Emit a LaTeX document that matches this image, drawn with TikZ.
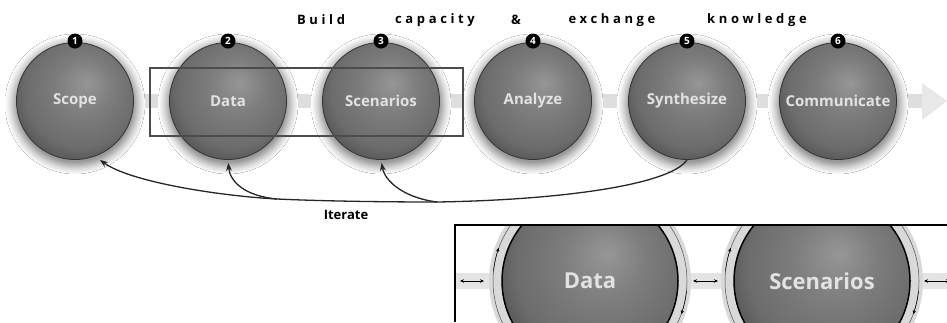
\documentclass[tikz,border=0pt]{standalone}
\usepackage{fontspec}
\setmainfont{Open Sans}
\usetikzlibrary{arrows.meta}
\definecolor{ballhi}{HTML}{969696}
\definecolor{ballmid}{HTML}{6C6C6C}
\definecolor{balledge}{HTML}{464646}
\definecolor{bandgray}{HTML}{DEDEDE}
\definecolor{balltext}{HTML}{E2E2E2}
\pgfdeclareradialshading{sphere}{\pgfpoint{5bp}{8bp}}{color(0bp)=(ballhi);color(12bp)=(ballmid!60!ballhi);color(24bp)=(ballmid);color(34bp)=(balledge);color(50bp)=(balledge)}
\pgfdeclareradialshading{glow}{\pgfpointorigin}{color(0bp)=(gray!80);color(20.5bp)=(gray!80);color(21.5bp)=(gray!60);color(23bp)=(gray!30);color(25bp)=(white);color(50bp)=(white)}
\tikzset{
    ball/.style={circle,draw=black!80,line width=0.8pt,shading=sphere,minimum size=117pt,inner sep=0pt,text=balltext,font=\bfseries\fontsize{15}{15}\selectfont},
    bigball/.style={circle,draw=black,line width=1.5pt,shading=sphere,minimum size=176pt,inner sep=0pt,text=balltext,font=\bfseries\fontsize{22}{22}\selectfont},
    badge/.style={circle,fill=black,minimum size=15pt,inner sep=0pt,text=white,font=\bfseries\fontsize{10}{10}\selectfont},
    spaced/.style={inner sep=0pt,font=\bfseries\fontsize{13}{13}\selectfont\addfontfeature{LetterSpace=28}},
    iter/.style={line width=1.3pt,draw=black!85},
    iterarrow/.style={iter,-{Stealth[length=8pt,width=6pt]}},
    ringarrow/.style={line width=0.5pt,-{Stealth[length=4pt,width=3.5pt]}},
    smallarrow/.style={line width=0.6pt,{Stealth[length=4pt,width=3.5pt]}-{Stealth[length=4pt,width=3.5pt]}},
}
\begin{document}
\begin{tikzpicture}[x=1pt,y=-1pt]
\useasboundingbox (0,0) rectangle (947,322);
\clip (0,0) rectangle (947,322);
% centres of the steps
\coordinate (c1) at (75,101);
\coordinate (c2) at (228,101);
\coordinate (c3) at (381,101);
\coordinate (c4) at (533,101);
\coordinate (c5) at (687,101);
\coordinate (c6) at (838,101);
% band with arrow head
\fill[bandgray] (75,94) rectangle (924,108);
\fill[bandgray!70] (922,83) -- (947,101) -- (922,120) -- cycle;
% glow
\fill[shading=glow] (c1) ++(0,3) circle[radius=70];
\fill[shading=glow] (c2) ++(0,3) circle[radius=70];
\fill[shading=glow] (c3) ++(0,3) circle[radius=70];
\fill[shading=glow] (c4) ++(0,3) circle[radius=70];
\fill[shading=glow] (c5) ++(0,3) circle[radius=70];
\fill[shading=glow] (c6) ++(0,3) circle[radius=70];
% steps
\node[ball] (scope) at (c1) {Scope};
\node[ball] (data) at (c2) {Data};
\node[ball] (scen) at (c3) {Scenarios};
\node[ball] (anal) at (c4) {Analyze};
\node[ball] (synth) at (c5) {Synthesize};
\node[ball] (comm) at (c6) {Communicate};
\draw[black!70,line width=1.1pt] (150,68) rectangle (463,136);
\node[badge] (n1) at (75,41) {1};
\node[badge] (n2) at (228,41) {2};
\node[badge] (n3) at (381,41) {3};
\node[badge] (n4) at (533,41) {4};
\node[badge] (n5) at (687,41) {5};
\node[badge] (n6) at (838,41) {6};
% title words
\node[spaced] (w1) at (321,20) {Build};
\node[spaced] (w2) at (435,20) {capacity};
\node[spaced] (w3) at (516,20) {\&};
\node[spaced] (w4) at (612,20) {exchange};
\node[spaced] (w5) at (757,20) {knowledge};
% iterate
\coordinate (j1) at (277,199);
\coordinate (j2) at (437,202);
\draw[iter] (synth.south) .. controls (670,185) and (560,200) .. (j2);
\draw[iter] (j2) .. controls (380,202) and (320,201) .. (j1);
\draw[iterarrow,shorten >=6pt] (j1) .. controls (220,196) and (130,182) .. (scope.-70);
\draw[iterarrow,shorten >=3pt] (j1) .. controls (245,196) and (230,182) .. (data.south);
\draw[iterarrow,shorten >=3pt] (j2) .. controls (405,198) and (385,182) .. (scen.south);
\node[font=\bfseries\fontsize{13}{13}\selectfont] (iterate) at (346,215) {Iterate};
% close-up
\coordinate (d1) at (590,281);
\coordinate (d2) at (822,281);
\begin{scope}
\clip (455,225) rectangle (947,322);
\fill[bandgray!80] (455,273) rectangle (947,289);
\fill[gray!30] (d1) circle[radius=101];
\fill[gray!30] (d2) circle[radius=101];
\draw[gray!60!black,line width=0.5pt] (d1) circle[radius=97];
\draw[gray!60!black,line width=0.5pt] (d2) circle[radius=97];
\node[bigball] (bigdata) at (d1) {Data};
\node[bigball] (bigscen) at (d2) {Scenarios};
\draw[ringarrow] (d1) ++(-174:97) arc[start angle=-174,end angle=-160,radius=97];
\draw[ringarrow] (d1) ++(6:97) arc[start angle=6,end angle=20,radius=97];
\draw[ringarrow] (d2) ++(-174:97) arc[start angle=-174,end angle=-160,radius=97];
\draw[ringarrow] (d2) ++(6:97) arc[start angle=6,end angle=20,radius=97];
\coordinate (a1) at (460,281);
\coordinate (a2) at (484,281);
\coordinate (a3) at (693,281);
\coordinate (a4) at (718,281);
\coordinate (a5) at (924,281);
\coordinate (a6) at (950,281);
\draw[smallarrow] (a1) -- (a2);
\draw[smallarrow] (a3) -- (a4);
\draw[smallarrow] (a5) -- (a6);
\end{scope}
\draw[line width=1.8pt] (455,322) -- (455,225) -- (947,225);
\end{tikzpicture}
\end{document}
